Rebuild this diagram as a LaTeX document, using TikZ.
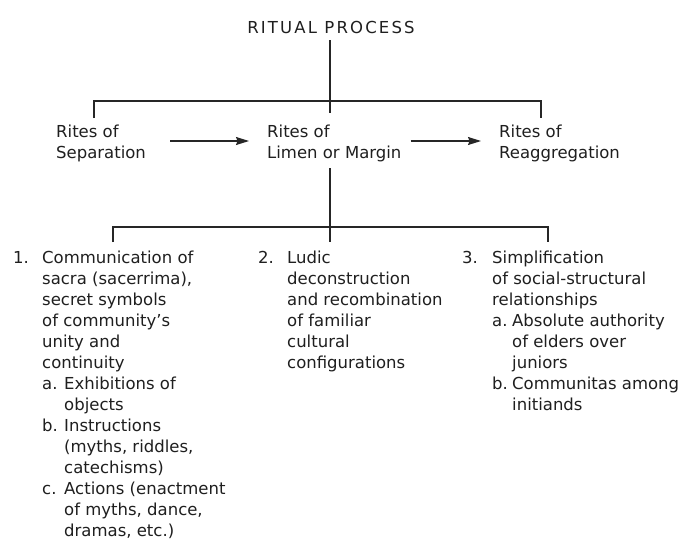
\documentclass[tikz,border=0pt]{standalone}
\usepackage{fontspec}
\setmainfont{DejaVu Sans}
\usetikzlibrary{arrows.meta}
\begin{document}
\begin{tikzpicture}[x=1pt,y=-1pt,
  txt/.style={anchor=base west, inner sep=0pt, align=left, font=\fontsize{16.5}{21}\selectfont, text=black!88},
  ln/.style={line width=1.2pt, draw=black!85},
  arr/.style={ln, -{Stealth[length=13pt,width=8pt,inset=1.5pt]}}]
\useasboundingbox[fill=white] (0,0) rectangle (679,544);

% title
\node[txt, anchor=base] (T) at (331,33) {\addfontfeatures{LetterSpace=13}RITUAL PROCESS};

% rites (anchor = baseline of the last line)
\node[txt] (sep) at (56,158) {Rites of\\Separation};
\node[txt] (lim) at (267,158) {Rites of\\Limen or Margin};
\node[txt] (reag) at (499,158) {Rites of\\Reaggregation};

% upper bracket
\coordinate (m1e) at (330,113);
\coordinate (l1) at (94,101);
\coordinate (l1e) at (94,118);
\coordinate (r1) at (541,101);
\coordinate (r1e) at (541,118);
\draw[ln] ([yshift=-7pt]T.south -| m1e) -- (m1e);
\draw[ln] (l1e) -- (l1) -- (r1) -- (r1e);

% arrows
\draw[arr] ([xshift=24pt]sep.east |- 0,141) -- ([xshift=-18pt]lim.west |- 0,141);
\draw[arr] ([xshift=9pt]lim.east |- 0,141) -- ([xshift=-18pt]reag.west |- 0,141);

% lower bracket
\coordinate (m2s) at (330,168);
\coordinate (m2e) at (330,242);
\coordinate (l2) at (113,227);
\coordinate (l2e) at (113,242);
\coordinate (r2) at (548,227);
\coordinate (r2e) at (548,242);
\draw[ln] (m2s) -- (m2e);
\draw[ln] (l2e) -- (l2) -- (r2) -- (r2e);

% column 1
\node[txt] (n1) at (13,263) {1.};
\node[txt] (c1) at (42,536) {Communication of\\
sacra (sacerrima),\\
secret symbols\\
of community’s\\
unity and\\
continuity\\
\makebox[22pt][l]{a.}Exhibitions of\\
\hspace*{22pt}objects\\
\makebox[22pt][l]{b.}Instructions\\
\hspace*{22pt}(myths, riddles,\\
\hspace*{22pt}catechisms)\\
\makebox[22pt][l]{c.}Actions (enactment\\
\hspace*{22pt}of myths, dance,\\
\hspace*{22pt}dramas, etc.)};

% column 2
\node[txt] (n2) at (258,263) {2.};
\node[txt] (c2) at (287,368) {Ludic\\
deconstruction\\
and recombination\\
of familiar\\
cultural\\
configurations};

% column 3
\node[txt] (n3) at (462,263) {3.};
\node[txt] (c3) at (492,410) {Simplification\\
of social-structural\\
relationships\\
\makebox[20pt][l]{a.}Absolute authority\\
\hspace*{20pt}of elders over\\
\hspace*{20pt}juniors\\
\makebox[20pt][l]{b.}Communitas among\\
\hspace*{20pt}initiands};
\end{tikzpicture}
\end{document}
